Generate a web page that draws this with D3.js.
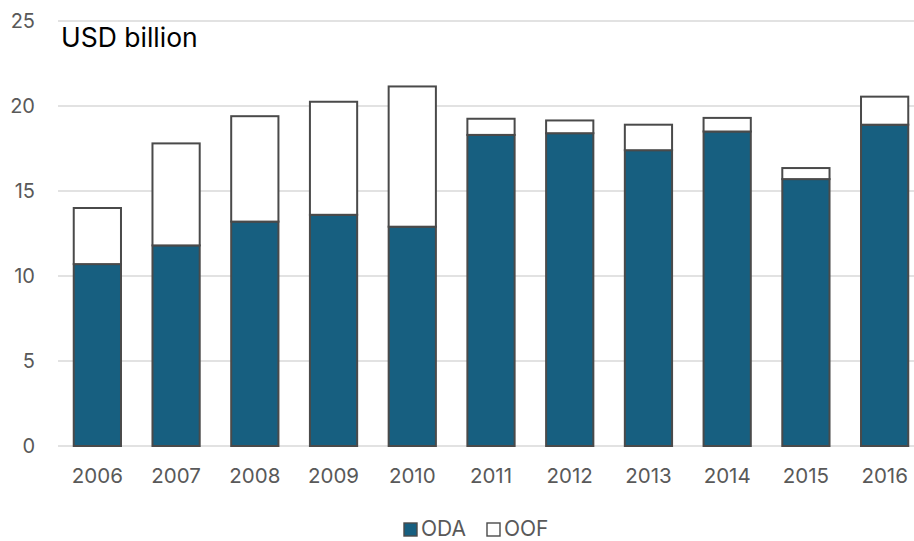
<!DOCTYPE html>
<html>
<head>
<meta charset="utf-8">
<script src="https://cdn.jsdelivr.net/npm/d3@7"></script>
<style>
  html, body { margin: 0; padding: 0; background: #fff; }
  svg { display: block; }
  text { font-family: Inter, "Open Sans", "Liberation Sans", sans-serif; fill: #595959; }
</style>
</head>
<body>
<svg id="chart" width="914" height="541"></svg>
<script>
// Years on the category axis
const years = ["2006", "2007", "2008", "2009", "2010", "2011", "2012", "2013", "2014", "2015", "2016"];
// Official development assistance, USD billion
const oda = [10.7, 11.8, 13.2, 13.6, 12.9, 18.3, 18.4, 17.4, 18.5, 15.7, 18.9];
// Other official flows, USD billion (stacked on top of ODA)
const oof = [3.3, 6.0, 6.2, 6.65, 8.25, 0.95, 0.75, 1.5, 0.8, 0.65, 1.65];
const yTicks = [0, 5, 10, 15, 20, 25];
const seriesNames = ["ODA", "OOF"];
const seriesColors = { ODA: "#175f80", OOF: "#ffffff" };

const svg = d3.select("#chart");
const plot = { left: 58, right: 924, top: 21, bottom: 446 };

const x = d3.scaleBand()
  .domain(years)
  .range([plot.left, plot.right])
  .paddingInner(0.4)
  .paddingOuter(0.2);

const y = d3.scaleLinear()
  .domain([0, 25])
  .range([plot.bottom, plot.top]);

// Horizontal gridlines
svg.append("g")
  .selectAll("line")
  .data(yTicks)
  .join("line")
  .attr("x1", plot.left)
  .attr("x2", 914)
  .attr("y1", d => y(d))
  .attr("y2", d => y(d))
  .attr("stroke", "#d9d9d9")
  .attr("stroke-width", 1.5);

// Y axis labels
const yAxis = d3.axisLeft(y).tickValues(yTicks).tickSize(0).tickPadding(0);
svg.append("g")
  .attr("transform", "translate(35,0)")
  .call(yAxis)
  .call(g => g.select(".domain").remove())
  .call(g => g.selectAll("text")
    .attr("font-size", 20)
    .attr("font-family", "Inter, sans-serif")
    .attr("fill", "#595959"));

// Stacked data
const rows = years.map((yr, i) => ({ year: yr, ODA: oda[i], OOF: oof[i] }));
const stacked = d3.stack().keys(seriesNames)(rows);

svg.append("g")
  .selectAll("g")
  .data(stacked)
  .join("g")
  .attr("fill", d => seriesColors[d.key])
  .selectAll("rect")
  .data(d => d)
  .join("rect")
  .attr("x", d => x(d.data.year))
  .attr("width", x.bandwidth())
  .attr("y", d => y(d[1]))
  .attr("height", d => y(d[0]) - y(d[1]))
  .attr("stroke", "#4a4a4a")
  .attr("stroke-width", 2);

// X axis labels
const xAxis = d3.axisBottom(x).tickSize(0).tickPadding(0);
svg.append("g")
  .attr("transform", `translate(0,${plot.bottom + 22})`)
  .call(xAxis)
  .call(g => g.select(".domain").remove())
  .call(g => g.selectAll("text")
    .attr("font-size", 20.5)
    .attr("font-family", "Inter, sans-serif")
    .attr("fill", "#595959"));

// Unit label
svg.append("text")
  .attr("x", 61)
  .attr("y", 47)
  .attr("font-size", 26.5)
  .style("fill", "#000")
  .text("USD billion");

// Legend
const legend = svg.append("g");
const legendItems = [
  { name: "ODA", x: 404 },
  { name: "OOF", x: 487 }
];
legendItems.forEach(item => {
  legend.append("rect")
    .attr("x", item.x)
    .attr("y", 523)
    .attr("width", 13)
    .attr("height", 13)
    .attr("fill", seriesColors[item.name])
    .attr("stroke", "#4a4a4a")
    .attr("stroke-width", 1.4);
  legend.append("text")
    .attr("x", item.x + 17)
    .attr("y", 536)
    .attr("font-size", 21)
    .text(item.name);
});
</script>
</body>
</html>
